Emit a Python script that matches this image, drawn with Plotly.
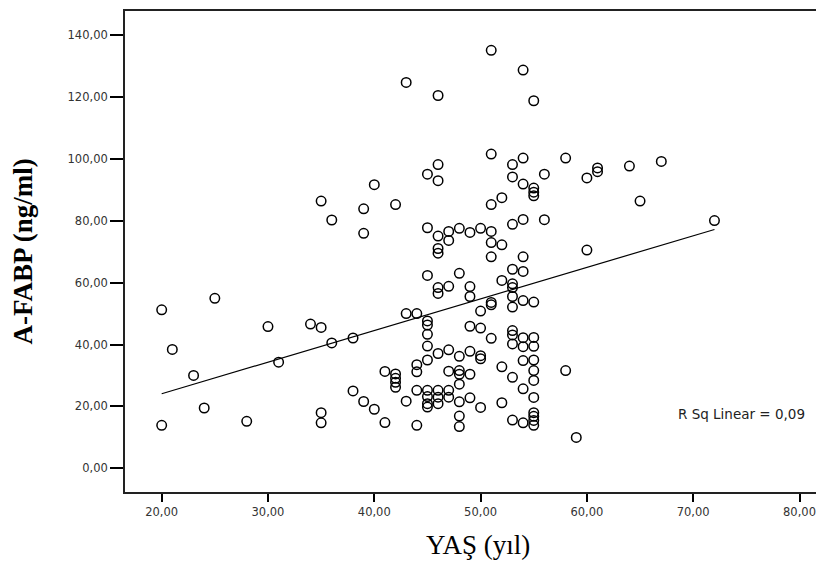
import plotly.graph_objects as go

# Age (YAŞ, yıl) and A-FABP (ng/ml) values
age = [
    20, 20, 21, 23, 24, 25, 28, 30, 31, 34, 35, 35, 35, 35, 36, 36, 38, 38, 39, 39, 39,
    40, 40, 41, 41, 42, 42, 42, 42, 42, 43, 43, 43, 44, 44, 44, 44, 44,
    45, 45, 45, 45, 45, 45, 45, 45, 45, 45, 45, 45,
    46, 46, 46, 46, 46, 46, 46, 46, 46, 46, 46, 46,
    47, 47, 47, 47, 47, 47, 47,
    48, 48, 48, 48, 48, 48, 48, 48, 48,
    49, 49, 49, 49, 49, 49, 49,
    50, 50, 50, 50, 50, 50,
    51, 51, 51, 51, 51, 51, 51, 51, 51,
    52, 52, 52, 52, 52,
    53, 53, 53, 53, 53, 53, 53, 53, 53, 53, 53, 53, 53,
    54, 54, 54, 54, 54, 54, 54, 54, 54, 54, 54, 54,
    55, 55, 55, 55, 55, 55, 55, 55, 55, 55, 55, 55, 55, 55, 55,
    56, 56, 58, 58, 59, 60, 60, 61, 61, 64, 65, 67, 72,
]
fabp = [
    51.2, 13.9, 38.4, 30.0, 19.5, 54.9, 15.2, 45.8, 34.3, 46.6, 45.5, 18.0, 14.7, 86.3, 80.2, 40.5, 42.1, 25.0, 83.8, 75.9, 21.6,
    91.6, 19.1, 14.8, 31.3, 85.2, 30.5, 29.1, 27.8, 26.2, 124.6, 21.7, 50.0, 50.0, 33.5, 31.2, 25.2, 13.9,
    95.0, 77.7, 62.3, 47.6, 46.3, 43.3, 39.5, 35.0, 25.2, 23.2, 20.9, 19.8,
    120.4, 98.1, 92.9, 75.0, 71.0, 69.5, 58.4, 56.5, 37.1, 25.2, 23.0, 20.9,
    76.5, 73.6, 58.8, 38.3, 31.4, 25.2, 23.0,
    77.5, 63.0, 36.2, 31.6, 30.4, 27.2, 21.5, 16.9, 13.5,
    76.2, 58.7, 55.5, 45.9, 37.8, 30.4, 22.8,
    77.5, 50.8, 45.3, 36.4, 35.4, 19.7,
    135.0, 101.5, 85.2, 76.5, 72.9, 68.3, 53.6, 52.8, 42.0,
    87.4, 72.2, 60.7, 32.8, 21.2,
    98.1, 94.1, 78.8, 64.3, 59.6, 58.4, 55.5, 52.1, 44.5, 43.1, 40.2, 29.4, 15.6,
    128.6, 100.2, 91.8, 80.4, 68.3, 63.6, 54.2, 42.2, 39.3, 34.8, 25.7, 14.7,
    118.7, 90.5, 89.2, 88.0, 53.7, 42.3, 39.4, 35.0, 31.6, 28.4, 22.9, 18.0, 16.8, 15.5, 13.9,
    95.0, 80.3, 100.2, 31.6, 10.0, 93.8, 70.5, 97.0, 95.8, 97.6, 86.3, 99.1, 80.0,
]

# Linear fit
fit_intercept = 3.7
fit_slope = 1.02
r_sq_label = "R Sq Linear = 0,09"

x_ticks = [20, 30, 40, 50, 60, 70, 80]
y_ticks = [0, 20, 40, 60, 80, 100, 120, 140]

x_title = "YAŞ (yıl)"
y_title = "A-FABP (ng/ml)"

fit_x = [min(age), max(age)]
fit_y = [fit_intercept + fit_slope * v for v in fit_x]

fig = go.Figure()
fig.add_trace(go.Scatter(
    x=age, y=fabp, mode="markers",
    marker=dict(symbol="circle-open", size=9.5, color="black", line=dict(width=1.5, color="black")),
    showlegend=False, hoverinfo="x+y",
))
fig.add_trace(go.Scatter(
    x=fit_x, y=fit_y, mode="lines",
    line=dict(color="black", width=1.2),
    showlegend=False, hoverinfo="skip",
))

tick_font = dict(family="DejaVu Sans", size=11.5, color="#333")

fig.update_layout(
    width=816, height=555,
    margin=dict(l=117, r=1, t=1, b=71),
    plot_bgcolor="white", paper_bgcolor="white",
    separators=",.",
    xaxis=dict(
        range=[16.55, 82.21], tickvals=x_ticks, tickformat=".2f",
        ticks="outside", ticklen=8, tickwidth=1.5, tickcolor="black",
        showline=True, linecolor="#222", linewidth=1.8, mirror=True,
        showgrid=False, zeroline=False, tickfont=tick_font,
    ),
    yaxis=dict(
        range=[-7.62, 147.68], tickvals=y_ticks, tickformat=".2f",
        ticks="outside", ticklen=13, tickwidth=1.5, tickcolor="black",
        showline=True, linecolor="#222", linewidth=1.8, mirror=False,
        showgrid=False, zeroline=False, tickfont=tick_font,
    ),
    annotations=[
        dict(text=r_sq_label, xref="x", yref="y", x=74.5, y=17.5,
             showarrow=False, xanchor="center", yanchor="middle",
             font=dict(family="DejaVu Sans", size=13.5, color="#222")),
        dict(text=y_title, xref="paper", yref="paper", x=(22 - 125) / 698, y=0.5,
             textangle=-90, showarrow=False, xanchor="center", yanchor="middle",
             font=dict(family="Liberation Serif", size=27, color="black", weight="bold")),
        dict(text=x_title, xref="paper", yref="paper", x=(478 - 125) / 698, y=(492 - 545) / 483,
             showarrow=False, xanchor="center", yanchor="middle",
             font=dict(family="Liberation Serif", size=27, color="black")),
    ],
)

fig.write_html("out.html")
